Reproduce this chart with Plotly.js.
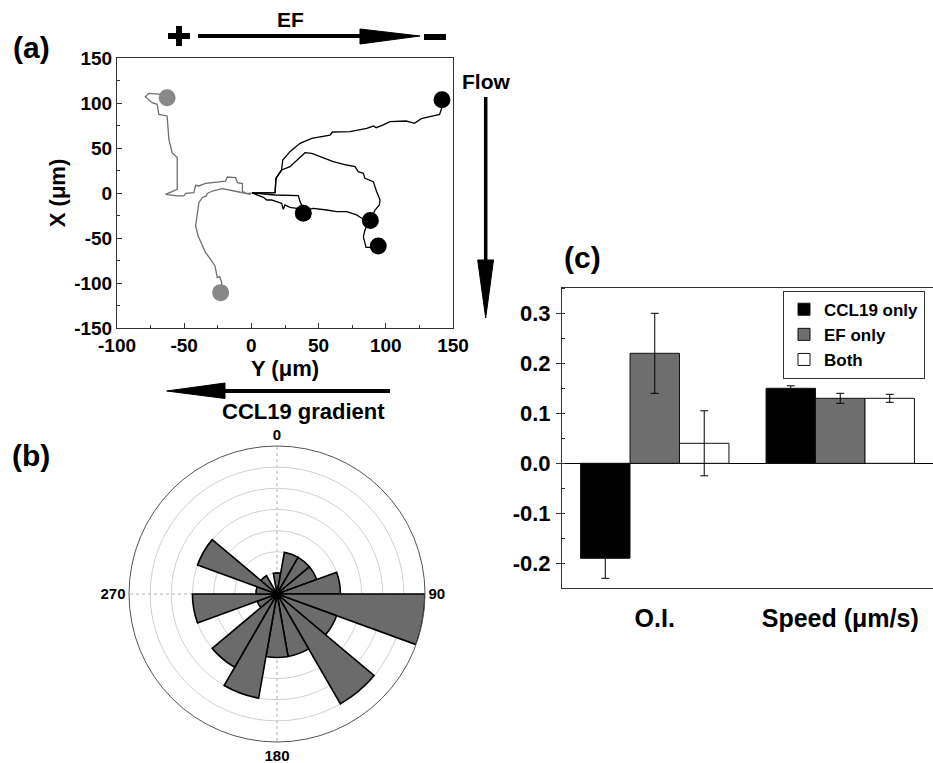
<!DOCTYPE html>
<html><head><meta charset="utf-8">
<script src="https://cdn.plot.ly/plotly-3.0.1.min.js"></script>
<style>html,body{margin:0;padding:0;background:#fff}</style>
</head><body><div id="chart" style="width:933px;height:763px"></div>
<script>
// ---------- Panel (a): cell trajectories (Y horizontal, X vertical, µm) ----------
const grayTrack1_Y = [0,-1.2,-4.2,-6.7,-6.7,-10.4,-11.7,-17.9,-19.2,-27.9,-34.1,-39.1,-41.5,-42.8,-49.0,-50.2,-55.2,-63.9,-55.2,-55.2,-59.0,-61.4,-62.7,-68.9,-70.1,-73.9,-78.9,-76.4,-70.1,-66.4,-62.7];
const grayTrack1_X = [0,-0.4,-0.4,1.9,10.4,11.5,17.0,17.8,13.3,11.5,10.7,7.8,8.5,0.4,-0.4,-3.3,-3.3,-1.5,4.1,39.3,44.8,59.6,85.6,87.4,98.5,100.4,107.0,110.7,109.6,109.6,105.9];
const grayTrack2_Y = [0,-1.2,-9.2,-16.7,-21.6,-29.1,-32.8,-33.6,-36.6,-39.1,-40.3,-41.5,-39.6,-34.1,-30.3,-27.1,-26.1,-25.4,-23.6,-22.1,-22.9];
const grayTrack2_X = [0,-1.5,1.1,3.3,4.8,2.2,-0.4,-3.3,-5.2,-10.7,-25.6,-36.7,-47.8,-66.3,-73.7,-81.1,-88.5,-94.1,-93.0,-99.6,-110.7];
const blackTrackA_Y = [0.5,8.2,17.6,18.3,22.5,23.3,28.7,36.2,44.9,58.5,60.4,73.4,85.8,90.7,92.8,98.1,103.1,115.2,121.4,126.4,140.0,142.5,141.8];
const blackTrackA_X = [0,0.4,0.3,16.3,25.6,36.7,45.9,55.2,60.8,64.4,67.8,68.1,71.9,74.4,72.6,75.6,79.2,80.0,77.4,82.6,87.4,98.5,103.7];
const blackTrackB_Y = [0.5,3.9,8.9,11.4,15.1,18.8,22.5,23.7,25.0,28.7,33.7,38.6];
const blackTrackB_X = [0,-2.2,-4.8,-7.8,-7.8,-9.6,-11.5,-18.1,-13.3,-15.9,-17.0,-22.6];
const blackTrackC_Y = [0.5,17.6,18.3,22.5,28.7,34.9,39.9,44.9,51.0,60.9,70.9,77.1,79.5,83.3,84.5,90.7,93.2,95.7,95.2,92.0,88.5];
const blackTrackC_X = [0,0.3,16.3,25.6,29.3,38.5,44.8,44.1,40.4,34.8,31.1,29.3,23.7,21.9,16.3,12.6,1.4,-7.8,-13.3,-18.9,-30.5];
const blackTrackD_Y = [0.5,17.6,34.9,36.7,39.9,46.1,56.0,63.5,70.9,78.3,82.1,87.0,84.5,83.3,85.3,90.7,94.4];
const blackTrackD_X = [0,-2.2,-3.0,-11.5,-18.9,-17.0,-18.9,-20.7,-20.7,-24.4,-28.1,-31.9,-41.1,-48.5,-60.4,-60.4,-58.9];
const trajTickVals = [-100,-50,0,50,100,150];
const trajTickText = ['-100','-50','0','50','100','150'];
const trajYTickVals = [-150,-100,-50,0,50,100,150];
const trajYTickText = ['-150','-100','-50','0','50','100','150'];

// ---------- Panel (b): rose histogram of migration angles ----------
const roseAngles = [0,20,40,60,80,100,120,140,160,180,200,220,240,260,280,300,320,340];
const roseCounts = [1,2,2,2,3,7,3,6,3,3,5,4,1,4,1,4,1,0];
const roseTickVals = [0,90,180,270];
const roseTickText = ['0','90','180','270'];

// ---------- Panel (c): grouped bars ----------
const barGroups = ['O.I.','Speed (μm/s)'];
const ccl19Only = [-0.19,0.15];
const ccl19OnlyErr = [0.04,0.005];
const efOnly = [0.22,0.13];
const efOnlyErr = [0.08,0.01];
const bothVals = [0.04,0.13];
const bothErr = [0.065,0.008];
const barTickVals = [-0.2,-0.1,0,0.1,0.2,0.3];
const barTickText = ['-0.2','-0.1','0.0','0.1','0.2','0.3'];

const FAM = 'Liberation Sans, Arial, sans-serif';
const F = (s)=>({family:FAM,size:s,color:'#000',weight:'bold'});
const W=933,H=763;
const px=(x)=>x/W, py=(y)=>1-y/H;
function path(pts){return pts.map((p,i)=>(i?'L':'M')+px(p[0]).toFixed(5)+','+py(p[1]).toFixed(5)).join(' ')+' Z';}

const traces = [];
function track(xs,ys,color){traces.push({type:'scatter',mode:'lines',x:xs,y:ys,xaxis:'x',yaxis:'y',line:{color:color,width:1.3},showlegend:false,hoverinfo:'skip'});}
track(grayTrack1_Y,grayTrack1_X,'#6f6f6f');
track(grayTrack2_Y,grayTrack2_X,'#6f6f6f');
track(blackTrackA_Y,blackTrackA_X,'#000');
track(blackTrackB_Y,blackTrackB_X,'#000');
track(blackTrackC_Y,blackTrackC_X,'#000');
track(blackTrackD_Y,blackTrackD_X,'#000');
const last=a=>a[a.length-1];
traces.push({type:'scatter',mode:'markers',xaxis:'x',yaxis:'y',showlegend:false,
  x:[last(grayTrack1_Y),last(grayTrack2_Y)],y:[last(grayTrack1_X),last(grayTrack2_X)],
  marker:{color:'#888',size:17}});
traces.push({type:'scatter',mode:'markers',xaxis:'x',yaxis:'y',showlegend:false,
  x:[last(blackTrackA_Y),last(blackTrackB_Y),last(blackTrackC_Y),last(blackTrackD_Y)],
  y:[last(blackTrackA_X),last(blackTrackB_X),last(blackTrackC_X),last(blackTrackD_X)],
  marker:{color:'#000',size:17}});

traces.push({type:'barpolar',subplot:'polar',r:roseCounts,theta:roseAngles,width:20,
  marker:{color:'#6b6b6b',line:{color:'#000',width:1.6}},showlegend:false});

function barTrace(name,vals,err,color){
  return {type:'bar',name:name,x:barGroups,y:vals,xaxis:'x2',yaxis:'y2',
    marker:{color:color,line:{color:'#111',width:1}},
    error_y:{type:'data',array:err,color:'#000',thickness:1,width:4}};
}
traces.push(barTrace('CCL19 only',ccl19Only,ccl19OnlyErr,'#000'));
traces.push(barTrace('EF only',efOnly,efOnlyErr,'#6e6e6e'));
traces.push(barTrace('Both',bothVals,bothErr,'#fff'));

const layout = {
  width:W,height:H,margin:{l:0,r:0,t:0,b:0},paper_bgcolor:'#fff',plot_bgcolor:'#fff',
  font:F(16),
  xaxis:{domain:[117/W,453/W],anchor:'y',range:[-100,150],tickmode:'array',tickvals:trajTickVals,ticktext:trajTickText,
    ticks:'inside',ticklen:5,tickcolor:'#333',showline:true,mirror:true,linecolor:'#333',linewidth:1,
    showgrid:false,zeroline:false,tickfont:F(19),
    minor:{tickmode:'linear',tick0:0,dtick:25,ticks:'inside',ticklen:3,tickcolor:'#333'},
    title:{text:'Y (μm)',font:F(22),standoff:2},automargin:false},
  yaxis:{domain:[1-328/H,1-58/H],anchor:'x',range:[-150,150],tickmode:'array',tickvals:trajYTickVals,ticktext:trajYTickText,
    ticks:'inside',ticklen:5,tickcolor:'#333',showline:true,mirror:true,linecolor:'#333',linewidth:1,
    showgrid:false,zeroline:false,tickfont:F(19),
    minor:{tickmode:'linear',tick0:0,dtick:25,ticks:'inside',ticklen:3,tickcolor:'#333'},
    title:{text:'X (μm)',font:F(22),standoff:2},automargin:false},
  xaxis2:{domain:[562/W,1],anchor:'y2',type:'category',range:[-0.5,1.5],ticks:'',showline:true,mirror:true,
    linecolor:'#333',linewidth:1,showgrid:false,tickfont:F(25),ticklabelstandoff:8,automargin:false},
  yaxis2:{domain:[1-588.3/H,1-288.3/H],anchor:'x2',range:[-0.25,0.35],tickmode:'array',tickvals:barTickVals,ticktext:barTickText,
    ticks:'outside',ticklen:5,tickcolor:'#333',showline:true,linecolor:'#333',linewidth:1,showgrid:false,
    zeroline:true,zerolinecolor:'#000',zerolinewidth:1,tickfont:F(22),ticklabelstandoff:1,
    minor:{tickmode:'linear',tick0:0,dtick:0.05,ticks:'inside',ticklen:3,tickcolor:'#333'},automargin:false},
  barmode:'group',bargap:0.2,bargroupgap:0,
  legend:{x:783/W,y:1-290.7/H,xanchor:'left',yanchor:'top',bordercolor:'#333',borderwidth:1,bgcolor:'#fff',
    font:F(17),itemwidth:30,tracegroupgap:0},
  polar:{domain:{x:[129/W,425/W],y:[1-742/H,1-446/H]},bgcolor:'#fff',
    radialaxis:{range:[0,7],dtick:1,showticklabels:false,ticks:'',showline:false,gridcolor:'#d0d0d0',gridwidth:1},
    angularaxis:{rotation:90,direction:'clockwise',tickmode:'array',tickvals:roseTickVals,ticktext:roseTickText,
      ticks:'',showgrid:true,gridcolor:'#b0b0b0',griddash:'dot',gridwidth:1,linecolor:'#555',linewidth:1,tickfont:F(15)}},
  shapes:[
    // EF arrow
    {type:'line',xref:'paper',yref:'paper',x0:px(198),y0:py(36),x1:px(365),y1:py(36),line:{color:'#000',width:4}},
    {type:'path',xref:'paper',yref:'paper',path:path([[360,29],[420,36],[360,44]]),fillcolor:'#000',line:{color:'#000',width:1}},
    // plus
    {type:'line',xref:'paper',yref:'paper',x0:px(168),y0:py(36),x1:px(190),y1:py(36),line:{color:'#000',width:6}},
    {type:'line',xref:'paper',yref:'paper',x0:px(179),y0:py(26),x1:px(179),y1:py(46),line:{color:'#000',width:6}},
    // minus
    {type:'line',xref:'paper',yref:'paper',x0:px(424),y0:py(37),x1:px(446),y1:py(37),line:{color:'#000',width:6}},
    // Flow arrow
    {type:'line',xref:'paper',yref:'paper',x0:px(485.7),y0:py(97),x1:px(485.7),y1:py(265),line:{color:'#000',width:3.5}},
    {type:'path',xref:'paper',yref:'paper',path:path([[477.7,260],[485.7,318],[493.5,260]]),fillcolor:'#000',line:{color:'#000',width:1}},
    // CCL19 arrow
    {type:'line',xref:'paper',yref:'paper',x0:px(390),y0:py(391),x1:px(222),y1:py(391),line:{color:'#000',width:4}},
    {type:'path',xref:'paper',yref:'paper',path:path([[225,383],[166.7,391],[225,398.5]]),fillcolor:'#000',line:{color:'#000',width:1}}
  ],
  annotations:[
    {text:'(a)',xref:'paper',yref:'paper',x:px(31),y:py(47),showarrow:false,font:F(30),xanchor:'center',yanchor:'middle'},
    {text:'(b)',xref:'paper',yref:'paper',x:px(31),y:py(455),showarrow:false,font:F(30),xanchor:'center',yanchor:'middle'},
    {text:'(c)',xref:'paper',yref:'paper',x:px(582),y:py(258),showarrow:false,font:F(30),xanchor:'center',yanchor:'middle'},
    {text:'EF',xref:'paper',yref:'paper',x:px(290),y:py(19),showarrow:false,font:F(21),xanchor:'center',yanchor:'middle'},
    {text:'Flow',xref:'paper',yref:'paper',x:px(486),y:py(81),showarrow:false,font:F(21),xanchor:'center',yanchor:'middle'},
    {text:'CCL19 gradient',xref:'paper',yref:'paper',x:px(303),y:py(411),showarrow:false,font:F(22),xanchor:'center',yanchor:'middle'}
  ]
};
Plotly.newPlot('chart',traces,layout,{displayModeBar:false,staticPlot:true});
</script></body></html>
